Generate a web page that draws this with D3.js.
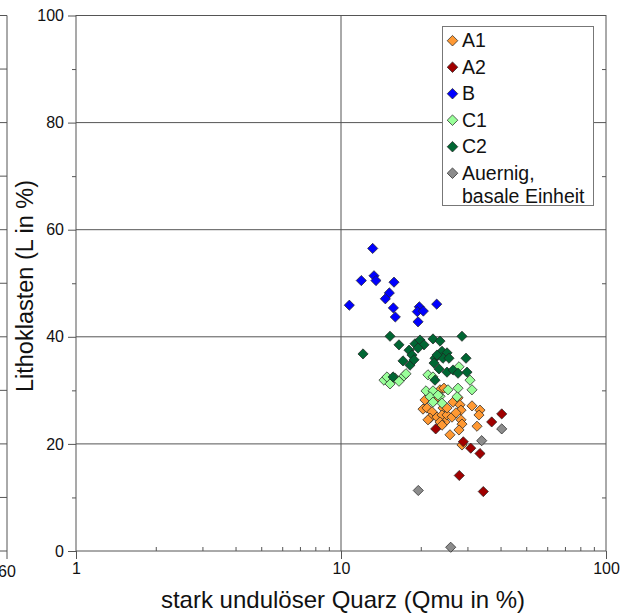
<!DOCTYPE html>
<html>
<head>
<meta charset="utf-8">
<script src="https://cdn.jsdelivr.net/npm/d3@7"></script>
<style>
  body { margin: 0; background: #fff; }
  text { font-family: "Liberation Sans", Arial, sans-serif; fill: #111; }
</style>
</head>
<body>
<div id="chart"></div>
<script>
/*******************************/
/*            Data             */
/*******************************/

// Qmu (x, %) and L (y, %) per group
var a1Qmu = [20.75, 20.39, 21.11, 22.05, 21.67, 21.29, 23.03, 24.26, 24.05, 24.69, 23.64, 23.64, 24.47, 26.47, 27.64, 28.12,
             28.37, 31.21, 33.46, 33.17, 25.12, 26.23, 27.16, 28.37, 28.61, 27.88, 25.78, 32.6, 28.61, 25.12, 24.05, 22.63];
var a1L   = [28.2, 26.5, 26.7, 26.0, 24.8, 24.5, 25.0, 26.7, 25.4, 24.1, 24.1, 30.1, 30.4, 27.8, 28.6, 27.3,
             26.3, 27.1, 26.3, 25.4, 25.4, 25.0, 25.8, 24.5, 23.7, 22.6, 21.7, 23.3, 19.8, 26.7, 23.5, 28.2];

var a2Qmu = [40.41, 37.04, 22.77, 28.94, 30.87, 33.46, 27.95, 34.43];
var a2L   = [25.6, 24.1, 22.8, 20.4, 19.2, 18.2, 14.1, 11.1];

var bQmu = [10.75, 11.93, 13.17, 13.32, 13.55, 15.85, 15.22, 14.70, 15.76, 16.03, 19.75, 19.41, 20.45, 19.53, 22.97];
var bL   = [45.9, 50.5, 56.5, 51.4, 50.5, 50.2, 48.2, 47.1, 45.4, 43.7, 45.6, 44.7, 44.8, 42.8, 46.1];

var c1Qmu = [14.53, 14.91, 15.31, 15.99, 16.55, 17.29, 17.59, 21.29, 22.24, 27.88, 30.68, 31.21, 20.93, 22.24, 25.34,
             27.64, 23.64, 21.67, 27.40, 24.05, 22.24, 23.23];
var c1L   = [31.9, 32.5, 31.2, 32.3, 31.7, 32.7, 33.1, 32.9, 32.5, 34.4, 31.9, 30.1, 29.9, 29.9, 30.1,
             30.4, 28.9, 28.8, 28.8, 27.6, 27.8, 29.1];

var c2Qmu = [12.11, 15.31, 16.55, 15.72, 17.14, 18.06, 18.53, 18.21, 19.02, 19.87, 20.57, 22.24, 23.64, 28.61, 18.86,
             24.05, 25.12, 22.63, 24.26, 25.56, 29.63, 22.44, 23.43, 25.12, 26.47, 27.64, 29.89, 22.63, 19.53, 23.03];
var c2L   = [36.8, 40.1, 38.5, 32.5, 35.5, 37.5, 36.6, 34.7, 38.7, 39.4, 38.5, 39.6, 39.2, 40.1, 35.7,
             37.3, 37.0, 36.0, 36.0, 36.0, 36.0, 35.1, 34.0, 33.4, 33.8, 33.2, 33.4, 31.9, 37.9, 36.6];

var auQmu = [40.41, 33.96, 19.57, 25.94];
var auL   = [22.8, 20.6, 11.3, 0.7];

var groupNames  = ["A1", "A2", "B", "C1", "C2", "Auernig,|basale Einheit"];
var groupColors = ["#ff9933", "#a00000", "#0000ff", "#99ff99", "#006633", "#8c8c8c"];

var yMajor = [0, 20, 40, 60, 80, 100];
var yMinor = [10, 30, 50, 70, 90];
var xMajor = [1, 10, 100];
var xMinor = [2, 3, 4, 5, 6, 7, 8, 9, 20, 30, 40, 50, 60, 70, 80, 90];

var groups = [
  [a1Qmu, a1L], [a2Qmu, a2L], [bQmu, bL], [c1Qmu, c1L], [c2Qmu, c2L], [auQmu, auL]
];

/*******************************/
/*        Chart set-up         */
/*******************************/

var width = 630, height = 614;
var plotLeft = 76, plotRight = 606, plotTop = 15.5, plotBottom = 551;
var axisColor = "#555";

var svg = d3.select("#chart").append("svg")
  .attr("width", width)
  .attr("height", height);

var x = d3.scaleLog().domain([1, 100]).range([plotLeft, plotRight]);
var y = d3.scaleLinear().domain([0, 100]).range([plotBottom, plotTop]);

// neighbouring panel edge at the far left (cut off)
var ghost = svg.append("g");
ghost.append("path")
  .attr("d", "M0," + plotTop + "H7V" + (plotBottom + 8) + "M0," + plotBottom + "H7")
  .attr("fill", "none").attr("stroke", axisColor);
d3.range(10, 100, 10).forEach(function(v) {
  ghost.append("line").attr("x1", 0).attr("x2", 7)
    .attr("y1", y(v)).attr("y2", y(v)).attr("stroke", axisColor);
});
ghost.append("text").attr("x", 7).attr("y", 577)
  .attr("text-anchor", "middle").style("font-size", "16px").text("60");

// gridlines
var grid = svg.append("g").attr("stroke", axisColor).attr("stroke-width", 1);
[20, 40, 60, 80].forEach(function(v) {
  grid.append("line").attr("x1", plotLeft).attr("x2", plotRight)
    .attr("y1", y(v)).attr("y2", y(v));
});
grid.append("line").attr("x1", x(10)).attr("x2", x(10))
  .attr("y1", plotTop).attr("y2", plotBottom);

// axes
function styleAxis(g) {
  g.select(".domain").remove();
  g.selectAll("line").attr("stroke", axisColor);
  g.selectAll("text").style("font-size", "16px")
    .style("font-family", "Liberation Sans, Arial, sans-serif").attr("fill", "#111");
}

svg.append("g").attr("transform", "translate(" + plotLeft + ",0)")
  .call(d3.axisLeft(y).tickValues(yMajor).tickSize(8).tickPadding(4).tickFormat(d3.format("d")))
  .call(styleAxis);
svg.append("g").attr("transform", "translate(" + plotLeft + ",0)")
  .call(d3.axisLeft(y).tickValues(yMinor).tickSize(4).tickFormat(""))
  .call(styleAxis);
svg.append("g").attr("transform", "translate(" + plotRight + ",0)")
  .call(d3.axisRight(y).tickValues(yMinor).tickSize(-4).tickFormat(""))
  .call(styleAxis);

svg.append("g").attr("transform", "translate(0," + plotBottom + ")")
  .call(d3.axisBottom(x).tickValues(xMajor).tickSize(8).tickPadding(4).tickFormat(d3.format("d")))
  .call(styleAxis);
svg.append("g").attr("transform", "translate(0," + plotBottom + ")")
  .call(d3.axisBottom(x).tickValues(xMinor).tickSize(-4).tickFormat(""))
  .call(styleAxis);

// frame
svg.append("rect")
  .attr("x", plotLeft).attr("y", plotTop)
  .attr("width", plotRight - plotLeft).attr("height", plotBottom - plotTop)
  .attr("fill", "none").attr("stroke", axisColor);

// axis titles
svg.append("text")
  .attr("x", 343).attr("y", 608)
  .attr("text-anchor", "middle").style("font-size", "24px")
  .text("stark undulöser Quarz (Qmu in %)");

svg.append("text")
  .attr("transform", "translate(33,286) rotate(-90)")
  .attr("text-anchor", "middle").style("font-size", "23.5px")
  .text("Lithoklasten (L in %)");

/*******************************/
/*           Points            */
/*******************************/

var diamond = d3.symbol().type(d3.symbolSquare).size(52);

groups.forEach(function(grp, i) {
  svg.append("g").selectAll("path")
    .data(d3.zip(grp[0], grp[1]))
    .enter()
    .append("path")
    .attr("d", diamond)
    .attr("transform", function(d) {
      return "translate(" + x(d[0]) + "," + y(d[1]) + ") rotate(45)";
    })
    .attr("fill", groupColors[i])
    .attr("stroke", "#222")
    .attr("stroke-opacity", 0.85)
    .attr("stroke-width", 0.8);
});

/*******************************/
/*           Legend            */
/*******************************/

var legend = svg.append("g");
legend.append("rect")
  .attr("x", 442.5).attr("y", 26.5).attr("width", 151).attr("height", 179)
  .attr("fill", "#fff").attr("stroke", "#777");

var smallDiamond = d3.symbol().type(d3.symbolSquare).size(56);
groupNames.forEach(function(name, i) {
  var cy = 40.7 + i * 26.5;
  legend.append("path")
    .attr("d", smallDiamond)
    .attr("transform", "translate(452.5," + cy + ") rotate(45)")
    .attr("fill", groupColors[i])
    .attr("stroke", "#222").attr("stroke-opacity", 0.85).attr("stroke-width", 0.8);
  var lines = name.split("|");
  lines.forEach(function(line, j) {
    legend.append("text")
      .attr("x", 462).attr("y", cy + 6.5 + j * 23.5)
      .style("font-size", "19.5px")
      .text(line);
  });
});
</script>
</body>
</html>
